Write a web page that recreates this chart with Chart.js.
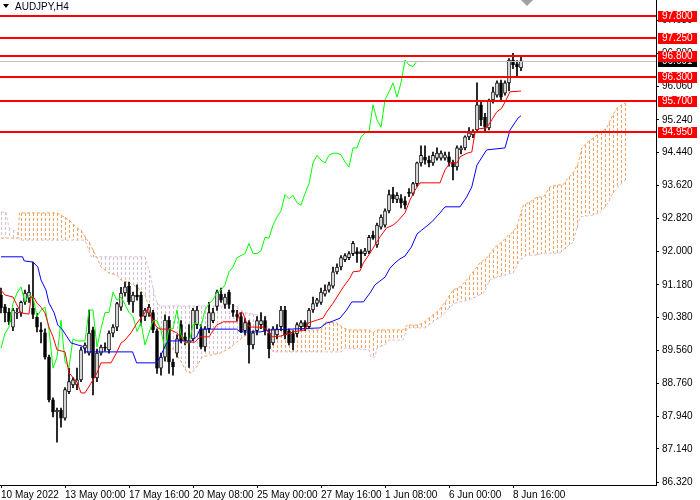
<!DOCTYPE html>
<html>
<head>
<meta charset="utf-8">
<script src="https://cdn.jsdelivr.net/npm/chart.js@4.4.0/dist/chart.umd.min.js"></script>
<style>
  body { margin: 0; background: #fff; }
  #wrap { position: relative; width: 700px; height: 500px; background: #fff; }
  #wrap canvas { position: absolute; left: 0; top: 0; }
  #under, #over { pointer-events: none; }
</style>
</head>
<body>
<div id="wrap">
  <canvas id="under" width="700" height="500"></canvas>
  <canvas id="chart" width="700" height="500"></canvas>
  <canvas id="over" width="700" height="500"></canvas>
</div>
<script>
// AUDJPY H4, one entry per 4-hour bar, bar 0 = left edge of the window
const symbolTitle = 'AUDJPY,H4';
const opens = [
  90.93, 90.64, 90.51, 90.14, 90.48, 90.48, 90.76, 90.85, 90.60, 90.38,
  90.07, 90.00, 89.40, 88.35, 88.05, 88.10, 87.90, 88.55, 88.72, 88.72,
  88.84, 89.62, 89.50, 90.07, 88.89, 89.50, 89.65, 89.58, 89.99, 90.14,
  90.63, 90.98, 91.15, 90.76, 90.93, 90.93, 90.40, 90.48, 90.50, 90.05,
  89.13, 89.40, 90.31, 89.28, 89.50, 90.20, 89.90, 89.75, 89.85, 90.20,
  90.10, 89.65, 90.10, 90.30, 90.65, 90.95, 90.70, 91.00, 90.55, 90.45,
  90.40, 90.05, 90.25, 89.70, 90.05, 90.20, 90.30, 90.00, 89.75, 89.95,
  90.15, 90.56, 90.05, 89.98, 89.98, 90.15, 90.25, 90.15, 90.56, 90.72,
  90.75, 90.95, 91.05, 91.15, 91.50, 91.62, 91.80, 91.85, 91.95, 92.00,
  92.00, 91.95, 92.00, 92.40, 92.16, 92.60, 92.65, 93.00, 93.40, 93.28,
  93.30, 93.25, 93.45, 93.43, 93.67, 94.18, 94.32, 94.25, 94.18, 94.30,
  94.30, 94.30, 94.33, 94.20, 94.08, 94.50, 94.55, 94.82, 94.87, 94.99,
  95.61, 95.30, 95.04, 95.73, 95.85, 96.15, 95.90, 96.15, 96.71, 96.62,
  96.52
];
const highs = [
  91.10, 90.70, 90.60, 90.60, 90.60, 90.78, 91.05, 91.18, 91.74, 90.48,
  90.25, 90.10, 89.45, 88.40, 88.15, 88.15, 88.65, 89.13, 88.90, 89.13,
  89.65, 89.75, 90.56, 90.14, 89.60, 89.70, 89.75, 90.05, 90.20, 90.75,
  91.12, 91.25, 91.25, 91.00, 91.18, 91.00, 90.60, 90.70, 90.55, 90.10,
  89.50, 90.44, 90.40, 89.35, 89.95, 90.30, 90.00, 90.20, 90.60, 90.65,
  90.20, 90.15, 90.75, 90.60, 91.05, 91.10, 90.95, 91.05, 90.70, 90.55,
  90.50, 90.35, 90.30, 90.05, 90.40, 90.50, 90.40, 90.10, 90.15, 90.20,
  90.65, 90.65, 90.10, 90.05, 90.25, 90.30, 90.30, 90.60, 90.88, 90.85,
  91.10, 91.18, 91.25, 91.62, 91.70, 91.90, 91.95, 92.00, 92.25, 92.10,
  92.05, 92.08, 92.40, 92.50, 92.70, 92.90, 93.05, 93.51, 93.58, 93.45,
  93.40, 93.35, 93.55, 93.70, 94.20, 94.60, 94.60, 94.35, 94.45, 94.55,
  94.48, 94.45, 94.45, 94.25, 94.60, 94.60, 94.85, 95.05, 95.00, 96.15,
  95.70, 95.40, 95.75, 96.05, 96.20, 96.22, 96.20, 96.75, 96.88, 96.70,
  96.82
];
const lows = [
  90.49, 90.27, 90.20, 90.05, 90.35, 90.40, 90.70, 90.75, 90.35, 90.02,
  89.75, 89.35, 88.30, 87.93, 87.31, 87.68, 87.85, 88.50, 88.65, 88.60,
  88.80, 89.50, 89.45, 88.47, 88.80, 89.45, 89.55, 89.50, 89.90, 90.05,
  90.55, 90.90, 90.70, 90.50, 90.80, 90.19, 90.30, 90.40, 90.00, 89.00,
  88.96, 89.30, 89.00, 88.96, 89.40, 89.75, 89.70, 89.15, 89.80, 90.10,
  89.60, 89.55, 90.00, 90.25, 90.55, 90.75, 90.60, 90.60, 90.40, 90.30,
  90.00, 89.95, 89.25, 89.60, 89.95, 90.10, 89.95, 89.38, 89.70, 89.85,
  90.05, 89.85, 89.70, 89.58, 89.90, 90.05, 90.05, 90.10, 90.50, 90.65,
  90.70, 90.90, 91.00, 91.10, 91.45, 91.55, 91.75, 91.80, 91.90, 91.73,
  91.60, 91.90, 91.95, 92.30, 92.10, 92.55, 92.60, 92.95, 93.20, 93.20,
  93.07, 93.05, 93.35, 93.38, 93.60, 94.10, 94.15, 94.08, 94.12, 94.25,
  94.25, 94.25, 94.10, 93.76, 94.00, 94.40, 94.50, 94.75, 94.80, 94.95,
  95.10, 94.95, 94.99, 95.65, 95.80, 95.70, 95.85, 95.95, 96.50, 96.30,
  96.45
];
const closes = [
  90.61, 90.49, 90.27, 90.56, 90.50, 90.75, 90.98, 91.00, 90.45, 90.14,
  90.02, 89.40, 88.35, 88.05, 88.10, 87.90, 88.60, 88.80, 88.84, 88.84,
  89.58, 89.70, 89.99, 88.89, 89.50, 89.65, 89.62, 89.99, 90.14, 90.72,
  90.98, 91.13, 90.76, 90.93, 90.88, 90.40, 90.56, 90.63, 90.07, 89.13,
  89.40, 90.31, 89.28, 89.16, 89.85, 89.80, 89.80, 89.80, 90.56, 90.56,
  89.65, 90.10, 90.50, 90.50, 91.00, 90.80, 90.88, 90.70, 90.50, 90.40,
  90.03, 90.25, 89.70, 90.00, 90.30, 90.30, 90.05, 89.60, 90.10, 90.10,
  90.56, 89.95, 89.75, 89.75, 90.20, 90.25, 90.15, 90.56, 90.72, 90.81,
  91.00, 91.05, 91.18, 91.50, 91.62, 91.85, 91.90, 91.95, 92.20, 91.95,
  91.95, 92.02, 92.35, 92.33, 92.65, 92.85, 93.00, 93.40, 93.30, 93.38,
  93.20, 93.14, 93.43, 93.67, 94.18, 94.37, 94.25, 94.18, 94.37, 94.42,
  94.42, 94.38, 94.20, 94.08, 94.55, 94.55, 94.82, 94.92, 94.95, 95.61,
  95.24, 95.06, 95.73, 95.93, 96.15, 95.80, 96.15, 96.71, 96.59, 96.55,
  96.69
];

// Ichimoku lines, read as [bar, price] vertices
const tenkanLine = [
  [0, 91.05], [1, 90.93], [3, 90.88], [3.75, 90.73], [5, 90.49], [7, 90.46], [7.5, 90.88],
  [8.3, 90.86], [9, 90.73], [10, 90.63], [11, 90.49], [12, 90.14], [13, 89.90], [14, 89.58],
  [16, 89.53], [17, 89.01], [19, 88.79], [20, 88.52], [21, 88.52], [22.5, 88.76], [24, 89.01],
  [25, 89.26], [27.5, 89.26], [29, 89.53], [30, 89.75], [31, 89.82], [32.5, 90.00], [34, 90.24],
  [35.6, 90.44], [36.8, 90.61], [37.5, 90.39], [38.9, 90.14], [39.8, 90.09], [42, 90.09],
  [43.9, 90.00], [46, 89.77], [48.5, 89.77], [49.75, 89.90], [52, 89.90], [53.9, 90.19],
  [55.6, 90.27], [59, 90.27], [59.6, 90.49], [60.5, 90.49], [61.4, 90.24], [62.25, 90.14],
  [65.6, 90.14], [66.4, 90.07], [67.7, 89.90], [70, 89.92], [73, 90.02], [76, 90.07],
  [76.8, 90.24], [78.9, 90.31], [80.5, 90.36], [81.4, 90.51], [83, 90.73], [85.6, 91.13],
  [87.25, 91.35], [88, 91.50], [89.75, 91.52], [90.6, 91.72], [92.25, 91.96], [93.5, 92.16],
  [94.75, 92.36], [96.4, 92.58], [98, 92.65], [99, 92.73], [101, 92.95], [102.25, 93.27],
  [103.5, 93.51], [104.75, 93.69], [109.75, 93.69], [111, 94.01], [112.25, 94.18], [114, 94.18],
  [114.75, 94.33], [116.5, 94.42], [117.7, 94.45], [118.5, 94.92], [119.3, 95.02], [121.4, 95.04],
  [122.7, 95.24], [123.9, 95.43], [125.2, 95.53], [126, 95.68], [127.25, 95.93], [130, 95.95]
];
const kijunLine = [
  [0, 91.87], [5.4, 91.87], [5.8, 91.77], [8, 91.74], [9.2, 91.62], [10, 91.30], [11.25, 91.05],
  [12, 90.73], [13.3, 90.49], [14.2, 90.19], [15.4, 90.07], [16.7, 89.87], [17.5, 89.75],
  [19.2, 89.70], [20.4, 89.67], [21.25, 89.53], [32.9, 89.53], [33.9, 89.26], [38.9, 89.26],
  [39.75, 89.40], [40.6, 89.58], [41.4, 89.75], [42.25, 89.80], [47.7, 89.80], [48.9, 89.90],
  [49.75, 90.09], [58.9, 90.09], [59.75, 90.02], [64.75, 90.02], [67.25, 90.07], [79.75, 90.12],
  [81.4, 90.24], [82.5, 90.27], [84.75, 90.36], [86.4, 90.56], [87.7, 90.76], [90.6, 90.76],
  [92.25, 90.98], [93.5, 91.18], [96, 91.37], [97.25, 91.59], [98.5, 91.72], [99.75, 91.82],
  [101, 91.89], [102.6, 92.11], [104, 92.43], [105.2, 92.53], [106.5, 92.63], [107.7, 92.73],
  [109.75, 92.95], [111, 93.10], [114.75, 93.10], [116.4, 93.34], [117.7, 93.59], [119, 94.13],
  [121.4, 94.50], [126, 94.55], [127.25, 94.99], [129.3, 95.29], [130, 95.34]
];
const spanALine = [
  [0, 92.33], [4.3, 92.33], [4.6, 92.95], [14, 92.95], [16, 92.84], [17.5, 92.73], [19, 92.58],
  [20, 92.53], [21, 92.36], [22, 92.23], [23, 92.04], [24, 91.84], [25, 91.62], [27, 91.47],
  [29, 91.42], [30, 91.30], [32, 91.23], [34, 91.13], [36, 90.93], [37.25, 90.56], [38.5, 90.31],
  [39.75, 90.14], [42, 89.75], [44.75, 89.33], [46.4, 89.04], [47.7, 89.01], [48.9, 89.16],
  [50.2, 89.40], [52.25, 89.45], [54.75, 89.50], [57.25, 89.63], [58.9, 89.77], [60.6, 89.90],
  [62.25, 90.00], [65.6, 90.14], [67, 90.07], [80, 90.07], [81, 90.27], [84, 90.24], [85.5, 90.12],
  [87, 90.07], [92, 90.07], [93, 90.00], [94, 90.07], [100.6, 90.07], [101.5, 90.19], [104, 90.19],
  [105.5, 90.24], [108, 90.44], [109.5, 90.56], [111.4, 90.81], [113, 91.05], [114.75, 91.13],
  [116.4, 91.30], [118, 91.50], [119.75, 91.72], [121.4, 91.84], [123.5, 92.11], [125.2, 92.23],
  [126.4, 92.36], [127.7, 92.46], [128.9, 92.60], [130.6, 93.14], [132.25, 93.22], [134, 93.34],
  [135.6, 93.34], [137.25, 93.59], [139, 93.64], [140.5, 93.64], [141.8, 93.81], [143, 93.93],
  [144.3, 94.18], [145.2, 94.55], [146.4, 94.67], [148, 94.79], [149.75, 94.92], [151.4, 95.04],
  [152.7, 95.31], [154, 95.53], [155.2, 95.61], [156, 95.66]
];
const spanBLine = [
  [0, 92.97], [1.2, 92.97], [2, 92.58], [4, 92.48], [4.6, 92.28], [21, 92.28], [22.5, 91.87],
  [36, 91.87], [37.25, 91.47], [38.1, 91.05], [38.9, 90.76], [39.75, 90.66], [58.9, 90.66],
  [59.75, 90.56], [61.4, 90.49], [66.3, 90.39], [67, 89.70], [68, 89.53], [85, 89.53], [86, 89.63],
  [92, 89.58], [92.5, 89.40], [93.5, 89.40], [94, 89.63], [96, 89.70], [97, 89.82], [100.5, 89.82],
  [101.5, 90.12], [106, 90.12], [108.5, 90.31], [110, 90.39], [112, 90.61], [113.5, 90.73],
  [117, 90.81], [118.7, 90.88], [120.6, 90.98], [122.25, 91.30], [124, 91.37], [126, 91.42],
  [128, 91.47], [129.75, 91.79], [131.4, 91.91], [133.5, 91.91], [135.6, 91.96], [139.75, 91.96],
  [141.4, 92.11], [143, 92.23], [144.75, 92.85], [148, 92.90], [149.75, 92.95], [151.4, 93.14],
  [153, 93.44], [154.75, 93.64], [156, 93.76]
];
const chikouShift = 26;

// horizontal levels and current bid
const levelValues = [97.800, 97.250, 96.800, 96.300, 95.700, 94.950];
const bidPrice = 96.691;

// axes
const yTickValues = [86.320, 87.140, 87.940, 88.760, 89.560, 90.380, 91.180, 92.000,
  92.820, 93.620, 94.440, 95.240, 96.060, 96.880, 97.680];
const xTickBars = [0, 16, 32, 48, 64, 80, 96, 112, 128];
const xTickLabels = ['10 May 2022', '13 May 00:00', '17 May 16:00', '20 May 08:00', '25 May 00:00',
  '27 May 16:00', '1 Jun 08:00', '6 Jun 00:00', '8 Jun 16:00'];

const FONT = 'Liberation Sans';
Chart.defaults.font.family = FONT;

const ctx = document.getElementById('chart').getContext('2d');
const toPts = arr => arr.map(p => ({ x: p[0], y: p[1] }));

const chart = new Chart(ctx, {
  type: 'bar',
  data: {
    datasets: [
      {
        label: 'wicks', order: 6, grouped: false,
        data: highs.map((h, i) => ({ x: i, y: [lows[i], h] })),
        backgroundColor: '#000', borderWidth: 0, barThickness: 1, minBarLength: 1
      },
      {
        label: 'bodies', order: 5, grouped: false,
        data: opens.map((o, i) => ({ x: i, y: [o, closes[i]] })),
        backgroundColor: opens.map((o, i) => closes[i] >= o ? '#FFFFFF' : '#000000'),
        borderColor: '#000', borderWidth: 1, borderSkipped: false, barThickness: 3, minBarLength: 1
      },
      {
        type: 'line', label: 'Chikou', order: 3,
        data: closes.slice(chikouShift).map((c, k) => ({ x: k, y: c })),
        borderColor: '#00FF00', borderWidth: 1, pointRadius: 0, tension: 0, fill: false
      },
      {
        type: 'line', label: 'Kijun', data: toPts(kijunLine), order: 2,
        borderColor: '#0000FF', borderWidth: 1, pointRadius: 0, tension: 0, fill: false
      },
      {
        type: 'line', label: 'Tenkan', data: toPts(tenkanLine), order: 1,
        borderColor: '#FF0000', borderWidth: 1, pointRadius: 0, tension: 0, fill: false
      }
    ]
  },
  options: {
    responsive: false,
    animation: false,
    devicePixelRatio: 1,
    events: [],
    layout: { padding: 0 },
    plugins: { legend: { display: false }, tooltip: { enabled: false } },
    scales: {
      x: {
        type: 'linear', min: -0.25, max: 163.75, offset: false,
        afterBuildTicks: s => { s.ticks = xTickBars.map(v => ({ value: v })); },
        afterFit: s => { s.height = 15; s.paddingLeft = 0; s.paddingRight = 0; },
        grid: { drawOnChartArea: false, offset: false, tickLength: 3, color: '#000' },
        border: { display: true, color: '#000', width: 1 },
        ticks: {
          autoSkip: false, maxRotation: 0, minRotation: 0, align: 'start', padding: 1,
          color: '#000', font: { family: FONT, size: 10 },
          callback: v => xTickLabels[xTickBars.indexOf(v)]
        }
      },
      y: {
        type: 'linear', position: 'right', min: 86.254, max: 98.19,
        afterBuildTicks: s => { s.ticks = yTickValues.map(v => ({ value: v })); },
        afterFit: s => { s.width = 44; s.paddingTop = 0; s.paddingBottom = 0; },
        grid: { drawOnChartArea: false, tickLength: 3, color: '#000' },
        border: { display: true, color: '#000', width: 1 },
        ticks: {
          padding: 3, color: '#000', font: { family: FONT, size: 10 },
          callback: v => v.toFixed(3)
        }
      }
    }
  }
});

const a = chart.chartArea, xs = chart.scales.x, ys = chart.scales.y;
const px = v => xs.getPixelForValue(v);
const py = v => ys.getPixelForValue(v);

// pixel height of a polyline at a given bar (for drawing only)
function lineAt(pts, bar) {
  for (let k = 1; k < pts.length; k++) {
    if (bar <= pts[k][0]) {
      const p0 = pts[k - 1], p1 = pts[k];
      const t = (bar - p0[0]) / (p1[0] - p0[0] || 1);
      return py(p0[1] + (p1[1] - p0[1]) * t);
    }
  }
  return py(pts[pts.length - 1][1]);
}

// layer under the chart: kumo, one dotted stroke per bar from span A to span B
const u = document.getElementById('under').getContext('2d');
u.lineWidth = 1;
u.setLineDash([3, 2]);
const lastBar = spanALine[spanALine.length - 1][0];
for (let i = 0; i <= lastBar; i++) {
  const ya = lineAt(spanALine, i), yb = lineAt(spanBLine, i);
  const x = Math.round(px(i)) + 0.5;
  u.strokeStyle = ya <= yb ? '#F4A460' : '#D8BFD8';
  u.beginPath();
  u.moveTo(x, Math.round(Math.min(ya, yb)));
  u.lineTo(x, Math.round(Math.max(ya, yb)));
  u.stroke();
}
[[spanALine, '#F4A460'], [spanBLine, '#D8BFD8']].forEach(([pts, color]) => {
  u.strokeStyle = color;
  u.beginPath();
  pts.forEach((p, k) => k ? u.lineTo(px(p[0]), py(p[1])) : u.moveTo(px(p[0]), py(p[1])));
  u.stroke();
});

// layer over the chart: levels, price labels, title
const g = document.getElementById('over').getContext('2d');
g.strokeStyle = '#C0C0C0';
g.lineWidth = 1;
let yBid = Math.round(py(bidPrice)) + 0.5;
g.beginPath(); g.moveTo(a.left, yBid); g.lineTo(a.right, yBid); g.stroke();
g.strokeStyle = '#FF0000';
g.lineWidth = 2;
levelValues.forEach(v => {
  const yy = Math.round(py(v));
  g.beginPath(); g.moveTo(a.left, yy); g.lineTo(a.right, yy); g.stroke();
});

g.font = '10px "' + FONT + '"';
g.textBaseline = 'middle';
g.textAlign = 'left';
yBid = Math.round(py(bidPrice));
g.fillStyle = '#000';
g.fillRect(a.right + 2, yBid - 5, 39, 11);
g.fillStyle = '#fff';
g.fillText(bidPrice.toFixed(3), a.right + 6, yBid + 0.5);
levelValues.forEach(v => {
  const yy = Math.round(py(v));
  g.fillStyle = '#FF0000';
  g.fillRect(a.right + 2, yy - 5, 39, 11);
  g.fillStyle = '#fff';
  g.fillText(v.toFixed(3), a.right + 6, yy + 0.5);
});

g.fillStyle = '#000';
g.beginPath(); g.moveTo(3, 4); g.lineTo(9, 4); g.lineTo(6, 8); g.closePath(); g.fill();
g.fillStyle = '#000020';
g.fillText(symbolTitle, 15, 7.5);
const sx = Math.round(px(closes.length + 0.5));
g.fillStyle = '#A0A0A0';
g.beginPath(); g.moveTo(sx - 6, 0); g.lineTo(sx + 6, 0); g.lineTo(sx, 6); g.closePath(); g.fill();
</script>
</body>
</html>
